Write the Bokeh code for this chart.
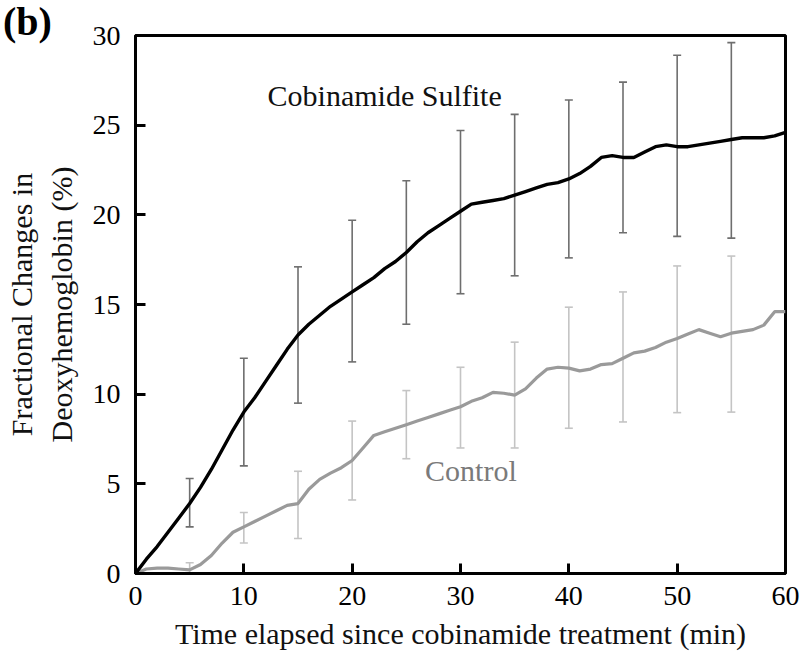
from bokeh.plotting import figure
from bokeh.models import Range1d, Label, FixedTicker, Div
from bokeh.layouts import column
from bokeh.embed import file_html
from bokeh.resources import INLINE

# ---- data ----
minutes = list(range(0, 61))
sulfite = [0, 0.8, 1.5, 2.3, 3.1, 3.9, 4.8, 5.8, 6.9, 8.0,
           9.0, 9.8, 10.7, 11.6, 12.5, 13.3, 13.9, 14.4, 14.9, 15.3,
           15.7, 16.1, 16.5, 17.0, 17.4, 17.9, 18.5, 19.0, 19.4, 19.8,
           20.2, 20.6, 20.7, 20.8, 20.9, 21.1, 21.3, 21.5, 21.7, 21.8,
           22.0, 22.3, 22.7, 23.2, 23.3, 23.2, 23.2, 23.5, 23.8, 23.9,
           23.8, 23.8, 23.9, 24.0, 24.1, 24.2, 24.3, 24.3, 24.3, 24.4,
           24.6]
control = [0, 0.25, 0.3, 0.3, 0.25, 0.2, 0.5, 1.0, 1.7, 2.3,
           2.6, 2.9, 3.2, 3.5, 3.8, 3.9, 4.7, 5.25, 5.6, 5.9,
           6.3, 7.0, 7.7, 7.9, 8.1, 8.3, 8.5, 8.7, 8.9, 9.1,
           9.3, 9.6, 9.8, 10.1, 10.05, 9.95, 10.3, 10.9, 11.4, 11.5,
           11.45, 11.3, 11.4, 11.65, 11.7, 12.0, 12.3, 12.4, 12.6, 12.9,
           13.1, 13.35, 13.6, 13.4, 13.2, 13.4, 13.5, 13.6, 13.85, 14.6,
           14.6]
err_x = [5, 10, 15, 20, 25, 30, 35, 40, 45, 50, 55]
sulfite_upper = [5.3, 12.0, 17.1, 19.7, 21.9, 24.7, 25.6, 26.4, 27.4, 28.9, 29.6]
sulfite_lower = [2.6, 6.0, 9.5, 11.8, 13.9, 15.6, 16.6, 17.6, 19.0, 18.8, 18.7]
control_upper = [0.6, 3.4, 5.7, 8.5, 10.2, 11.5, 12.9, 14.85, 15.7, 17.15, 17.7]
control_lower = [0.0, 1.7, 1.95, 4.1, 6.4, 7.0, 7.0, 8.1, 8.45, 8.97, 9.0]
x_ticks = [0, 10, 20, 30, 40, 50, 60]
y_ticks = [0, 5, 10, 15, 20, 25, 30]

FONT = "Liberation Serif"

p = figure(width=800, height=653, output_backend="svg", toolbar_location=None,
           x_range=Range1d(0, 60), y_range=Range1d(0, 30),
           min_border_left=135, min_border_right=15, min_border_top=35,
           min_border_bottom=80)
p.grid.visible = False
p.background_fill_color = "white"
p.border_fill_color = "white"
p.outline_line_color = "black"
p.outline_line_width = 3

for ax in (p.xaxis[0], p.yaxis[0]):
    ax.axis_line_width = 3
    ax.axis_line_color = "black"
    ax.major_tick_in = 10
    ax.major_tick_out = 0
    ax.major_tick_line_width = 3
    ax.minor_tick_line_color = None
    ax.major_label_text_font = FONT
    ax.major_label_text_font_size = "28px"
    ax.major_label_text_color = "black"
    ax.axis_label_text_font = FONT
    ax.axis_label_text_font_size = "30px"
    ax.axis_label_text_font_style = "normal"
    ax.axis_label_text_color = "#111111"

p.xaxis.ticker = FixedTicker(ticks=x_ticks)
p.yaxis.ticker = FixedTicker(ticks=y_ticks)
p.xaxis.major_label_standoff = 13
p.yaxis.major_label_standoff = 15
p.xaxis.axis_label = "Time elapsed since cobinamide treatment (min)"
p.yaxis.axis_label = "Fractional Changes in\nDeoxyhemoglobin (%)"
p.xaxis.axis_label_standoff = 9
p.yaxis.axis_label_standoff = 12

# error bars
p.segment(x0=err_x, y0=control_lower, x1=err_x, y1=control_upper,
          line_color="#c4c4c4", line_width=1.6)
p.scatter(x=err_x + err_x, y=control_upper + control_lower, marker="dash",
          size=8, line_color="#c4c4c4", line_width=1.6)
p.segment(x0=err_x, y0=sulfite_lower, x1=err_x, y1=sulfite_upper,
          line_color="#6e6e6e", line_width=1.6)
p.scatter(x=err_x + err_x, y=sulfite_upper + sulfite_lower, marker="dash",
          size=8, line_color="#6e6e6e", line_width=1.6)

# curves
p.line(minutes, control, line_color="#9a9a9a", line_width=3.2)
p.line(minutes, sulfite, line_color="black", line_width=3.4)

p.add_layout(Label(x=23.0, y=26.65, text="Cobinamide Sulfite", text_align="center",
                   text_baseline="alphabetic", text_font=FONT,
                   text_font_size="30px", text_color="#111111"))
p.add_layout(Label(x=30.96, y=5.75, text="Control", text_align="center",
                   text_baseline="alphabetic", text_font=FONT,
                   text_font_size="30px", text_color="#7a7a7a"))

panel_tag = Div(text="(b)", width=60, height=46,
                styles={"position": "absolute", "left": "-2px", "top": "-5px",
                        "font-family": "'Liberation Serif', serif",
                        "font-size": "40px", "font-weight": "bold",
                        "line-height": "1.1", "color": "black", "z-index": "10"})

layout = column(p, panel_tag)
open("out.html", "w").write(file_html(layout, INLINE))
